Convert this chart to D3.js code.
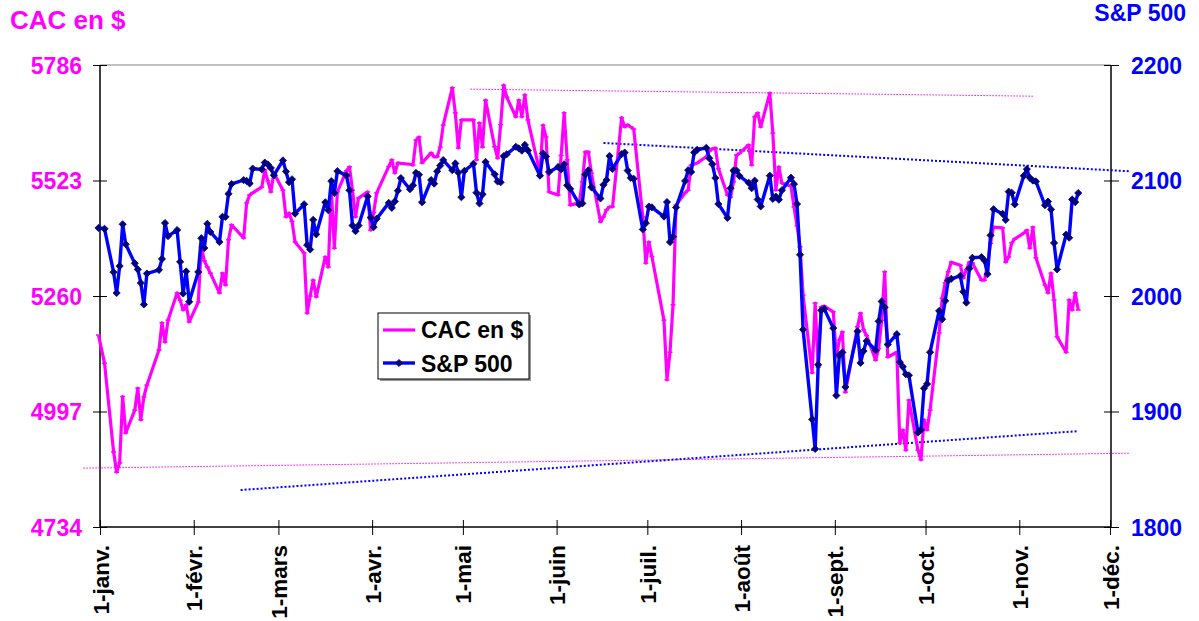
<!DOCTYPE html>
<html><head><meta charset="utf-8">
<script src="https://cdn.jsdelivr.net/npm/d3@7"></script>
<style>
body{margin:0;background:#fff}
svg{display:block}
text{font-family:Arial,"Liberation Sans",sans-serif;font-weight:bold}
</style>
</head><body>
<svg id="c" width="1199" height="621"></svg>
<script>
// ---------- DATA ----------
const dates = [
"2014-12-31",
"2015-01-02","2015-01-05","2015-01-06","2015-01-07","2015-01-08","2015-01-09","2015-01-12","2015-01-13","2015-01-14","2015-01-15","2015-01-16","2015-01-20","2015-01-21","2015-01-22","2015-01-23","2015-01-26","2015-01-27","2015-01-28","2015-01-29","2015-01-30",
"2015-02-02","2015-02-03","2015-02-04","2015-02-05","2015-02-06","2015-02-09","2015-02-10","2015-02-11","2015-02-12","2015-02-13","2015-02-17","2015-02-18","2015-02-19","2015-02-20","2015-02-23","2015-02-24","2015-02-25","2015-02-26","2015-02-27",
"2015-03-02","2015-03-03","2015-03-04","2015-03-05","2015-03-06","2015-03-09","2015-03-10","2015-03-11","2015-03-12","2015-03-13","2015-03-16","2015-03-17","2015-03-18","2015-03-19","2015-03-20","2015-03-23","2015-03-24","2015-03-25","2015-03-26","2015-03-27","2015-03-30","2015-03-31",
"2015-04-01","2015-04-02","2015-04-06","2015-04-07","2015-04-08","2015-04-09","2015-04-10","2015-04-13","2015-04-14","2015-04-15","2015-04-16","2015-04-17","2015-04-20","2015-04-21","2015-04-22","2015-04-23","2015-04-24","2015-04-27","2015-04-28","2015-04-29","2015-04-30",
"2015-05-01","2015-05-04","2015-05-05","2015-05-06","2015-05-07","2015-05-08","2015-05-11","2015-05-12","2015-05-13","2015-05-14","2015-05-15","2015-05-18","2015-05-19","2015-05-20","2015-05-21","2015-05-22","2015-05-26","2015-05-27","2015-05-28","2015-05-29",
"2015-06-01","2015-06-02","2015-06-03","2015-06-04","2015-06-05","2015-06-08","2015-06-09","2015-06-10","2015-06-11","2015-06-12","2015-06-15","2015-06-16","2015-06-17","2015-06-18","2015-06-19","2015-06-22","2015-06-23","2015-06-24","2015-06-25","2015-06-26","2015-06-29","2015-06-30",
"2015-07-01","2015-07-02","2015-07-06","2015-07-07","2015-07-08","2015-07-09","2015-07-10","2015-07-13","2015-07-14","2015-07-15","2015-07-16","2015-07-17","2015-07-20","2015-07-21","2015-07-22","2015-07-23","2015-07-24","2015-07-27","2015-07-28","2015-07-29","2015-07-30","2015-07-31",
"2015-08-03","2015-08-04","2015-08-05","2015-08-06","2015-08-07","2015-08-10","2015-08-11","2015-08-12","2015-08-13","2015-08-14","2015-08-17","2015-08-18","2015-08-19","2015-08-20","2015-08-21","2015-08-24","2015-08-25","2015-08-26","2015-08-27","2015-08-28","2015-08-31",
"2015-09-01","2015-09-02","2015-09-03","2015-09-04","2015-09-08","2015-09-09","2015-09-10","2015-09-11","2015-09-14","2015-09-15","2015-09-16","2015-09-17","2015-09-18","2015-09-21","2015-09-22","2015-09-23","2015-09-24","2015-09-25","2015-09-28","2015-09-29","2015-09-30",
"2015-10-01","2015-10-02","2015-10-05","2015-10-06","2015-10-07","2015-10-08","2015-10-09","2015-10-12","2015-10-13","2015-10-14","2015-10-15","2015-10-16","2015-10-19","2015-10-20","2015-10-21","2015-10-22","2015-10-23","2015-10-26","2015-10-27","2015-10-28","2015-10-29","2015-10-30",
"2015-11-02","2015-11-03","2015-11-04","2015-11-05","2015-11-06","2015-11-09","2015-11-10","2015-11-11","2015-11-12","2015-11-13","2015-11-16","2015-11-17","2015-11-18","2015-11-19","2015-11-20"
];

const spValues = [
2058.9,
2058.2,2020.58,2002.61,2025.9,2062.14,2044.81,2028.26,2023.03,2011.27,1992.67,2019.42,2022.55,2032.12,2063.15,2051.82,2057.09,2029.55,2002.16,2021.25,1994.99,
2020.85,2050.03,2041.51,2062.52,2055.47,2046.74,2068.59,2068.53,2088.48,2096.99,2100.34,2099.68,2097.45,2110.3,2109.66,2115.48,2113.86,2110.74,2104.5,
2117.39,2107.78,2098.53,2101.04,2071.26,2079.43,2044.16,2040.24,2065.95,2053.4,2081.19,2074.28,2099.5,2089.27,2108.1,2104.42,2091.5,2061.05,2056.15,2061.02,2086.24,2067.89,
2059.69,2066.96,2080.62,2076.33,2081.9,2091.18,2102.06,2092.43,2095.84,2106.63,2104.99,2081.18,2100.4,2097.29,2107.96,2112.93,2117.69,2108.92,2114.76,2106.85,2085.51,
2108.29,2114.49,2089.46,2080.15,2088,2116.1,2105.33,2099.12,2098.48,2121.1,2122.73,2129.2,2127.83,2125.85,2130.82,2126.06,2104.2,2123.48,2120.79,2107.39,
2111.73,2109.6,2114.07,2095.84,2092.83,2079.28,2080.15,2105.2,2108.86,2094.11,2084.43,2096.29,2100.44,2121.24,2109.99,2122.85,2124.2,2108.58,2102.31,2101.49,2057.64,2063.11,
2077.42,2076.78,2068.76,2081.34,2046.68,2051.31,2076.62,2099.6,2108.95,2107.4,2124.29,2126.64,2128.28,2119.21,2114.15,2102.15,2079.65,2067.64,2093.25,2108.57,2108.63,2103.84,
2098.04,2093.32,2099.84,2083.56,2077.57,2104.18,2084.07,2086.05,2083.39,2091.54,2102.44,2096.92,2079.61,2035.73,1970.89,1893.21,1867.61,1940.51,1987.66,1988.87,1972.18,
1913.85,1948.86,1951.13,1921.22,1969.41,1942.04,1952.29,1961.05,1953.03,1978.09,1995.31,1990.2,1958.03,1966.97,1942.74,1938.76,1932.24,1931.34,1881.77,1884.09,1920.03,
1923.82,1951.36,1987.05,1979.92,1995.83,2013.43,2014.89,2017.46,2003.69,1994.24,2023.86,2033.11,2033.66,2030.77,2018.94,2052.51,2075.15,2071.18,2065.89,2090.35,2089.41,2079.36,
2104.05,2109.79,2102.31,2099.93,2099.2,2078.58,2081.72,2075,2045.97,2023.04,2053.19,2050.44,2083.58,2081.24,2089.17
];

const cacValues = [
5171,
5107,4905,4859,4880,5031,4948,5000,5050,4978,5030,5057,5137,5199,5155,5205,5267,5250,5228,5240,5201,
5246,5372,5340,5326,5312,5267,5312,5285,5388,5422,5392,5472,5490,5495,5508,5547,5522,5497,5540,
5501,5440,5449,5430,5383,5358,5221,5260,5296,5258,5349,5326,5501,5369,5497,5545,5554,5501,5440,5483,5497,5410,
5450,5495,5555,5570,5540,5563,5562,5560,5558,5615,5622,5563,5586,5577,5577,5599,5649,5734,5677,5597,5661,
5661,5661,5570,5654,5599,5706,5600,5574,5650,5740,5713,5668,5706,5668,5718,5661,5540,5649,5622,5497,
5490,5580,5677,5570,5467,5472,5520,5588,5588,5540,5429,5440,5456,5463,5463,5666,5645,5650,5645,5640,5440,5335,
5383,5350,5205,5069,5132,5240,5467,5495,5501,5558,5560,5563,5577,5590,5595,5597,5550,5490,5485,5520,5581,5585,
5604,5558,5668,5677,5645,5722,5631,5501,5554,5517,5510,5463,5420,5372,5262,5085,5244,5098,5235,5237,5224,
5121,5160,5178,5041,5190,5221,5183,5170,5114,5140,5205,5315,5121,5132,4925,4955,4909,5023,4909,4887,4978,
4955,5000,5176,5255,5290,5315,5337,5330,5301,5320,5337,5335,5296,5296,5331,5380,5417,5415,5337,5349,5381,5390,
5403,5410,5369,5417,5347,5285,5267,5312,5251,5167,5132,5251,5228,5267,5228
];

const cacTicks = [4734, 4997, 5260, 5523, 5786];
const spTicks = [1800, 1900, 2000, 2100, 2200];
const monthTicks = ["2015-01-01","2015-02-01","2015-03-01","2015-04-01","2015-05-01","2015-06-01","2015-07-01","2015-08-01","2015-09-01","2015-10-01","2015-11-01","2015-12-01"];
const monthLabels = ["1-janv.","1-févr.","1-mars","1-avr.","1-mai","1-juin","1-juil.","1-août","1-sept.","1-oct.","1-nov.","1-déc."];

// trend lines (date, value)
const cacTrendTopDates = ["2015-05-03","2015-11-05"];
const cacTrendTopValues = [5731, 5715];
const cacTrendBottomDates = ["2014-12-26","2015-12-07"];
const cacTrendBottomValues = [4868, 4902];
const spTrendTopDates = ["2015-06-16","2015-12-07"];
const spTrendTopValues = [2132.5, 2108];
const spTrendBottomDates = ["2015-02-16","2015-11-20"];
const spTrendBottomValues = [1832, 1883];

// ---------- CHART ----------
(function () {
const MAG = "#FF00FF", BLUE = "#0000FF", NAVY = "#000080";
const FONT = "Arial, 'Liberation Sans', sans-serif";
const svg = d3.select("#c");
const parse = d3.utcParse("%Y-%m-%d");
const noon = s => new Date(parse(s).getTime() + 12 * 3600 * 1000);

const pLeft = 100, pRight = 1111, pTop = 65, pBottom = 527;
const x = d3.scaleUtc().domain([parse("2015-01-01"), parse("2015-12-01")]).range([100, 1110]);
const yL = d3.scaleLinear().domain([4734, 5786]).range([pBottom, pTop]);
const yR = d3.scaleLinear().domain([1800, 2200]).range([pBottom, pTop]);

// plot frame: top gray line
svg.append("line").attr("x1", pLeft).attr("x2", pRight).attr("y1", pTop).attr("y2", pTop)
  .attr("stroke", "#808080").attr("stroke-width", 1.2);

// axes
const axL = svg.append("g").attr("transform", `translate(${pLeft},0)`)
  .call(d3.axisLeft(yL).tickValues(cacTicks).tickSize(7).tickFormat(d3.format("d")));
axL.select(".domain").remove();
axL.selectAll(".tick line").attr("x1", 7).attr("x2", -7).attr("stroke", "#000");
axL.selectAll(".tick text").attr("x", -18).attr("dy", "0.35em")
  .attr("fill", MAG).style("font-size", "23px").style("font-family", FONT).style("font-weight", "bold");

const axR = svg.append("g").attr("transform", `translate(${pRight},0)`)
  .call(d3.axisRight(yR).tickValues(spTicks).tickSize(7).tickFormat(d3.format("d")));
axR.select(".domain").remove();
axR.selectAll(".tick line").attr("x1", -7).attr("x2", 8).attr("stroke", "#000");
axR.selectAll(".tick text").attr("x", 20).attr("dy", "0.35em")
  .attr("fill", BLUE).style("font-size", "23px").style("font-family", FONT).style("font-weight", "bold");

const axB = svg.append("g").attr("transform", `translate(0,${pBottom})`)
  .call(d3.axisBottom(x).tickValues(monthTicks.map(parse)).tickSize(8).tickFormat((d, i) => monthLabels[i]));
axB.select(".domain").remove();
axB.selectAll(".tick line").attr("y1", -7).attr("y2", 8).attr("stroke", "#000");
axB.selectAll(".tick text").attr("transform", "rotate(-90)").attr("text-anchor", "end")
  .attr("x", -18).attr("y", 0).attr("dy", "0.36em").attr("fill", "#000")
  .style("font-size", "22.5px").style("font-family", FONT).style("font-weight", "bold");

// axis lines
svg.append("line").attr("x1", pLeft).attr("x2", pLeft).attr("y1", pTop).attr("y2", pBottom).attr("stroke", "#000").attr("stroke-width", 1.5);
svg.append("line").attr("x1", pRight).attr("x2", pRight).attr("y1", pTop).attr("y2", pBottom).attr("stroke", "#000").attr("stroke-width", 1.5);
svg.append("line").attr("x1", pLeft).attr("x2", pRight).attr("y1", pBottom).attr("y2", pBottom).attr("stroke", "#000").attr("stroke-width", 1.5);

// trend lines
function trend(ds, vs, yScale, color, w, dash) {
  const pts = ds.map((d, i) => [x(noon(d)), yScale(vs[i])]);
  svg.append("path").attr("d", d3.line()(pts)).attr("fill", "none")
    .attr("stroke", color).attr("stroke-width", w).attr("stroke-dasharray", dash);
}
trend(cacTrendTopDates, cacTrendTopValues, yL, MAG, 1, "1.5,1.5");
trend(cacTrendBottomDates, cacTrendBottomValues, yL, MAG, 1, "1.5,1.5");
trend(spTrendTopDates, spTrendTopValues, yR, BLUE, 2, "2,2");
trend(spTrendBottomDates, spTrendBottomValues, yR, BLUE, 2, "2,2");

// series
const cacData = dates.map((d, i) => ({ d: noon(d), v: cacValues[i] }));
const spData = dates.map((d, i) => ({ d: noon(d), v: spValues[i] }));

svg.append("path").datum(cacData)
  .attr("d", d3.line().x(p => x(p.d)).y(p => yL(p.v)))
  .attr("fill", "none").attr("stroke", MAG).attr("stroke-width", 3.2).attr("stroke-linejoin", "round");
svg.append("g").selectAll("line").data(cacData).join("line")
  .attr("x1", p => x(p.d) - 2.5).attr("x2", p => x(p.d) + 2.5)
  .attr("y1", p => yL(p.v)).attr("y2", p => yL(p.v))
  .attr("stroke", MAG).attr("stroke-width", 1.5);

svg.append("path").datum(spData)
  .attr("d", d3.line().x(p => x(p.d)).y(p => yR(p.v)))
  .attr("fill", "none").attr("stroke", BLUE).attr("stroke-width", 3.4).attr("stroke-linejoin", "round");
const diamond = r => `M0,${-r}L${r},0L0,${r}L${-r},0Z`;
svg.append("g").selectAll("path").data(spData).join("path")
  .attr("d", diamond(3.6))
  .attr("transform", p => `translate(${x(p.d)},${yR(p.v)})`)
  .attr("fill", NAVY).attr("stroke", NAVY).attr("stroke-width", 0.8);

// titles
svg.append("text").attr("x", 10).attr("y", 29).attr("fill", MAG).style("font-size", "26px").text("CAC en $");
svg.append("text").attr("x", 1186).attr("y", 21).attr("text-anchor", "end").attr("fill", BLUE).style("font-size", "23px").text("S&P 500");

// legend
const lg = svg.append("g");
lg.append("rect").attr("x", 380).attr("y", 315).attr("width", 151).attr("height", 66).attr("fill", "#999");
lg.append("rect").attr("x", 378).attr("y", 313).attr("width", 151).attr("height", 66).attr("fill", "#fff").attr("stroke", "#000").attr("stroke-width", 1);
lg.append("line").attr("x1", 383).attr("x2", 415).attr("y1", 330).attr("y2", 330).attr("stroke", MAG).attr("stroke-width", 3.2);
lg.append("line").attr("x1", 383).attr("x2", 415).attr("y1", 363).attr("y2", 363).attr("stroke", BLUE).attr("stroke-width", 3.4);
lg.append("path").attr("d", diamond(3.6)).attr("transform", "translate(399,363)").attr("fill", NAVY).attr("stroke", NAVY).attr("stroke-width", 0.8);
lg.append("text").attr("x", 421).attr("y", 338).attr("fill", "#000").style("font-size", "23px").text("CAC en $");
lg.append("text").attr("x", 421).attr("y", 371.5).attr("fill", "#000").style("font-size", "23px").text("S&P 500");
})();
</script>
</body></html>
